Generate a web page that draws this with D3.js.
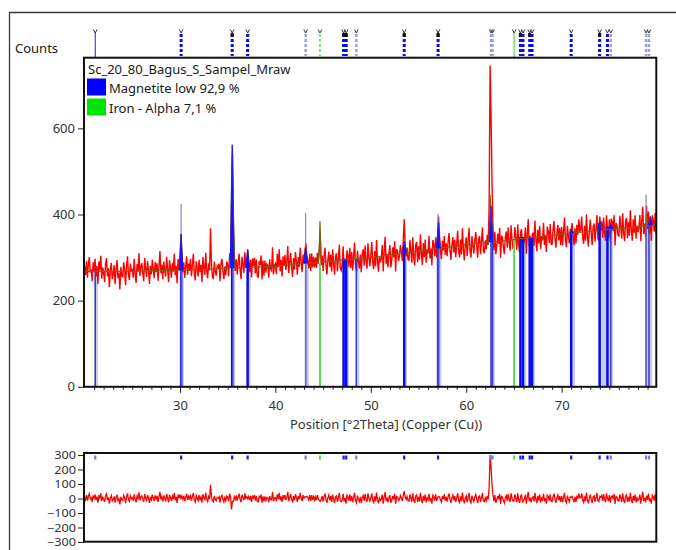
<!DOCTYPE html>
<html>
<head>
<meta charset="utf-8">
<script src="https://cdn.jsdelivr.net/npm/d3@7"></script>
<style>
  html, body { margin: 0; padding: 0; background: #fff; }
  svg { display: block; font-family: "Noto Sans", "Open Sans", sans-serif; }
</style>
</head>
<body>
<svg id="chart" width="676" height="550"></svg>
<script>
// ---- Scan: Sc_20_80_Bagus_S_Sampel_Mraw, Cu radiation, 20-80 deg 2Theta ----
const sampleName = "Sc_20_80_Bagus_S_Sampel_Mraw";
const scanStart = 20.0;
const scanStep = 0.1;

// observed counts, one value per step
const observed = [
279,259,292,253,285,301,265,273,245,289,
268,297,257,280,239,291,271,304,251,277,
264,243,285,299,256,275,232,270,288,250,
261,282,238,273,294,252,265,226,278,259,
254,289,271,236,280,303,260,248,286,268,
274,253,297,262,241,285,268,310,257,279,
287,264,245,299,274,255,292,271,239,281,
261,295,272,252,290,266,287,246,280,315,
264,284,250,291,270,256,302,275,243,294,
276,253,287,267,309,259,281,240,297,272,
300,355,307,266,289,253,279,303,260,286,
269,297,257,283,309,263,247,291,274,256,
295,266,283,243,301,278,260,311,269,252,
287,270,368,284,256,250,291,267,258,281,
277,286,245,288,297,268,250,279,259,291,
283,257,308,310,405,540,380,302,269,296,
261,288,309,270,250,302,284,264,312,278,
289,318,291,266,295,254,298,280,300,263,
296,257,255,292,283,305,249,293,258,293,
265,285,282,253,296,274,270,324,261,282,
286,262,309,278,319,268,295,256,303,282,
306,271,293,327,264,288,311,277,255,299,
272,313,292,260,301,279,323,287,266,307,
289,318,333,305,292,275,309,269,310,277,
302,277,300,276,311,286,315,350,282,305,
269,304,323,282,261,295,314,278,307,267,
319,287,260,303,310,268,298,330,275,270,
285,326,274,297,258,317,306,279,323,276,
313,270,304,335,282,266,316,293,275,307,
266,307,319,281,328,292,274,333,300,280,
305,336,288,273,315,280,341,292,267,303,
289,300,329,268,315,348,285,309,277,309,
329,277,295,324,301,338,268,320,315,292,
303,329,314,292,340,389,330,303,323,295,
294,341,315,288,347,300,282,329,336,289,
326,295,354,309,283,333,301,342,288,318,
309,350,298,321,282,341,330,303,347,300,
348,395,350,313,297,339,316,350,306,333,
303,338,357,316,295,329,348,312,341,301,
332,363,315,300,342,307,368,319,294,330,
347,304,338,369,316,300,350,327,309,341,
359,327,300,343,350,308,338,370,315,310,
340,320,353,329,420,746,630,480,375,317,
360,308,326,355,332,369,299,351,346,323,
308,349,361,323,370,334,316,375,342,322,
324,371,345,318,377,330,312,359,366,319,
330,341,370,309,356,389,326,350,318,350,
358,327,386,341,315,365,333,374,320,350,
340,381,329,352,313,372,361,334,378,331,
331,366,385,344,323,357,376,340,369,329,
371,328,362,393,340,324,374,351,333,365,
364,380,350,329,368,333,376,353,389,361,
364,395,347,332,374,339,400,351,326,362,
388,356,329,372,379,337,367,399,344,339,
395,372,384,346,393,357,339,398,365,345,
389,337,390,384,361,398,328,380,375,352,
350,397,371,344,403,356,338,385,392,345,
382,351,410,365,339,389,357,398,344,374,
359,370,399,338,385,418,355,379,347,420,
366,407,355,395,339,398,387,360,404,357,
383
];

// observed minus calculated, same steps
const difference = [
11,-9,24,-15,17,33,-3,5,-23,21,
0,29,-11,12,-29,23,3,36,-17,9,
-3,-24,18,32,-11,8,-35,3,21,-17,
-6,15,-29,6,27,-15,-2,-41,11,-8,
-14,21,3,-32,12,35,-8,-20,18,0,
6,-15,29,-6,-27,17,0,42,-11,11,
18,-5,-24,30,5,-14,23,2,-30,12,
-8,26,3,-17,21,-3,18,-23,11,46,
-6,14,-20,21,0,-14,32,5,-27,24,
6,-17,17,-3,39,-11,11,-30,27,2,
29,1,17,-5,18,-18,8,32,-11,15,
-2,26,-14,12,38,-8,-24,20,3,-15,
23,-6,11,-29,29,6,-12,39,-3,-20,
14,-3,95,11,-17,-23,18,-6,-15,8,
3,12,-29,14,23,-6,-24,5,-15,17,
8,-18,33,10,-75,-20,-20,12,-6,21,
-15,12,33,-6,-26,26,8,-12,36,2,
12,-2,14,-11,18,-23,21,3,23,-14,
18,-21,-23,14,5,27,-29,15,-20,15,
-14,6,3,-26,17,-5,-9,45,-18,3,
6,-18,29,-2,39,-12,15,-24,23,2,
24,-11,11,45,-18,6,29,-5,-27,17,
-12,29,8,-24,17,-5,39,3,-18,23,
3,12,10,15,6,-11,23,-17,24,-9,
14,-11,12,-12,23,-2,-15,-20,-6,17,
-21,14,33,-8,-29,5,24,-12,17,-23,
27,-5,-32,11,18,-24,6,38,-17,-22,
-9,32,-20,3,-36,23,12,-15,29,-18,
17,-26,8,39,-14,-30,20,-3,-21,11,
-32,9,21,-17,30,-6,-24,35,2,-18,
5,36,-12,-27,15,-20,41,-8,-33,3,
-14,-3,26,-35,12,45,-18,6,-26,6,
23,-29,-11,18,-5,32,-38,14,9,-14,
-6,20,5,-17,20,51,10,-6,14,-14,
-18,29,3,-24,35,-12,-30,17,24,-23,
11,-20,39,-6,-32,18,-14,27,-27,3,
-9,32,-20,3,-36,23,12,-15,29,-18,
8,14,10,-8,-24,18,-5,29,-15,12,
-21,14,33,-8,-29,5,24,-12,17,-23,
5,36,-12,-27,15,-20,41,-8,-33,3,
17,-26,8,39,-14,-30,20,-3,-21,11,
27,-5,-32,11,18,-24,6,38,-17,-22,
5,-15,18,-6,75,300,215,95,30,-18,
23,-29,-11,18,-5,32,-38,14,9,-14,
-32,9,21,-17,30,-6,-24,35,2,-18,
-18,29,3,-24,35,-12,-30,17,24,-23,
-14,-3,26,-35,12,45,-18,6,-26,6,
11,-20,39,-6,-32,18,-14,27,-27,3,
-9,32,-20,3,-36,23,12,-15,29,-18,
-21,14,33,-8,-29,5,24,-12,17,-23,
17,-26,8,39,-14,-30,20,-3,-21,11,
8,15,-6,-27,12,-23,20,-3,33,5,
5,36,-12,-27,15,-20,41,-8,-33,3,
27,-5,-32,11,18,-24,6,38,-17,-22,
14,9,21,-17,30,-6,-24,35,2,-18,
23,-29,13,18,-5,32,-38,14,9,-14,
-18,29,3,-24,35,-12,-30,17,24,-23,
11,-20,39,-6,-32,18,-14,27,-27,3,
-14,-3,26,-35,12,45,-18,6,-26,20,
-9,32,-20,0,-36,23,12,-15,29,-18,
6
];

// calculated profile [2Theta, counts]: background plus fitted peaks
const calcProfile = [
[20,268],[25,268],[30.0,271],[30.1,354],[30.2,290],[30.3,271],
[35.2,275],[35.3,300],[35.4,480],[35.5,560],[35.6,400],[35.7,290],[35.8,276],
[37.0,277],[37.1,320],[37.2,277],[40,280],
[43.0,286],[43.1,306],[43.2,323],[43.3,290],[43.4,287],
[44.5,288],[44.6,330],[44.67,385],[44.7,370],[44.8,289],[45,290],[50,300],
[53.3,310],[53.4,320],[53.5,338],[53.6,320],[53.7,311],[55,315],
[56.9,321],[57.0,340],[57.1,381],[57.2,340],[57.3,322],[60,330],
[62.3,335],[62.4,345],[62.5,446],[62.6,415],[62.7,385],[62.8,345],[62.9,336],
[65,342],[70,354],[71.0,356],[71.1,365],[71.2,357],
[73.9,363],[74.0,381],[74.1,364],[75.1,366],[75.2,377],[75.3,366],
[78.8,373],[78.9,400],[79.0,375],[79.2,375],[79.3,395],[79.4,376],[80,377]
];

// Magnetite low: line positions, relative intensity (%), stick top in counts
const magnetitePos = [21.12,30.12,35.47,37.09,43.17,47.15,47.42,48.48,53.5,57.05,62.6,62.75,65.68,65.95,66.65,66.9,71.0,73.98,74.8,75.15,78.85,79.15];
const magnetiteInt = [3,30,100,30,12,45,45,8,45,45,12,12,45,20,45,20,30,45,30,12,8,8];
const magnetiteTop = [269,271,276,277,287,297,297,297,311,322,336,337,348,348,348,348,361,381,372,377,377,377];
// reference stick heights reaching above the profile
const magnetiteRefTop = [[30.12,424],[35.55,377],[43.17,404],[57.05,401],[78.85,446]];
// fitted magnetite peak profiles [2Theta, base, top]
const magnetiteProfile = [[30.12,271,354],[35.47,276,562],[37.09,277,318],[43.17,287,323],[53.5,311,338],[57.08,322,381],[62.6,336,419],[71.05,357,365],[73.98,364,384],[75.18,367,377],[79.3,376,395]];
// peak-width bands [from, to, top]
const shadeBands = [[21.0,21.4,269],[30.0,30.4,271],[35.4,35.8,276],[37.0,37.4,277],[43.1,43.5,287],[47.0,47.7,297],[48.4,48.8,297],[53.4,53.8,311],[57.0,57.4,322],[62.5,63.0,337],[65.6,66.3,348],[66.6,67.2,348],[70.9,71.4,361],[73.9,75.4,377],[78.8,79.5,377]];

// Iron - Alpha
const ironPos = [44.67, 65.02];
const ironInt = [10, 4];
const ironTop = [288, 346];

const legendLabels = ["Magnetite low 92,9 %", "Iron - Alpha 7,1 %"];
const xTicksMajor = [30, 40, 50, 60, 70];
const yTicksMain = [0, 200, 400, 600];
const yTicksDiff = [-300, -200, -100, 0, 100, 200, 300];

// ---- drawing ----
const svg = d3.select("#chart");
const FONT = '"Noto Sans", "Open Sans", sans-serif';
const BLUE = "#0a0af0", BLUE_WEAK = "#3a3ad0", BLUE_LIGHT = "#9a9ae6";
const GREEN = "#5cd65c";

const x = d3.scaleLinear().domain([19.94, 79.92]).range([84, 656.3]);
const y = d3.scaleLinear().domain([0, 764]).range([386.8, 57.7]);
const yd = d3.scaleLinear().domain([-300, 300]).range([542, 455]);

const defs = svg.append("defs");
defs.append("clipPath").attr("id", "clipMain").append("rect")
  .attr("x", 84).attr("y", 57.7).attr("width", 572.3).attr("height", 329.1);
defs.append("clipPath").attr("id", "clipDiff").append("rect")
  .attr("x", 84).attr("y", 453).attr("width", 572.3).attr("height", 88.7);

// outer window frame
svg.append("path").attr("d", "M9.5,550V12.5H676")
  .attr("fill", "none").attr("stroke", "#3a3a3a").attr("stroke-width", 1.3);

svg.append("text").attr("x", 15).attr("y", 53).text("Counts")
  .attr("font-family", FONT).attr("font-size", 13).attr("fill", "#222");

// ---- phase markers above the main plot ----
const topG = svg.append("g");
magnetitePos.forEach((p, i) => {
  const xi = x(p), I = magnetiteInt[i];
  topG.append("path").attr("d", `M${xi - 1.8},29.5L${xi},33L${xi + 1.8},29.5`)
    .attr("fill", "none").attr("stroke", "#333").attr("stroke-width", 1);
  if (I < 5) {
    topG.append("line").attr("x1", xi).attr("x2", xi).attr("y1", 33).attr("y2", 57)
      .attr("stroke", "#2424b8").attr("stroke-width", 1);
  } else {
    topG.append("line").attr("x1", xi).attr("x2", xi).attr("y1", 34).attr("y2", 56)
      .attr("stroke", I < 15 ? BLUE_LIGHT : BLUE)
      .attr("stroke-width", I < 15 ? 2.4 : 3)
      .attr("stroke-dasharray", "3 2");
    if (I >= 40) {
      topG.append("line").attr("x1", xi).attr("x2", xi).attr("y1", 33).attr("y2", 37)
        .attr("stroke", "#111").attr("stroke-width", 3);
    }
  }
});
ironPos.forEach((p, i) => {
  const xi = x(p);
  topG.append("path").attr("d", `M${xi - 1.8},29.5L${xi},33L${xi + 1.8},29.5`)
    .attr("fill", "none").attr("stroke", "#333").attr("stroke-width", 1);
  if (ironInt[i] < 5) {
    topG.append("line").attr("x1", xi).attr("x2", xi).attr("y1", 33).attr("y2", 57)
      .attr("stroke", GREEN).attr("stroke-width", 1.2);
  } else {
    topG.append("line").attr("x1", xi).attr("x2", xi).attr("y1", 34).attr("y2", 56)
      .attr("stroke", "#90e090").attr("stroke-width", 2.4).attr("stroke-dasharray", "3 2");
  }
});

// ---- main plot ----
const main = svg.append("g").attr("clip-path", "url(#clipMain)");

main.selectAll("rect.band").data(shadeBands).join("rect")
  .attr("x", d => x(d[0])).attr("width", d => x(d[1]) - x(d[0]))
  .attr("y", d => y(d[2])).attr("height", d => y(0) - y(d[2]))
  .attr("fill", "#c8cce6");

const obsPts = observed.map((v, i) => [scanStart + i * scanStep, v]);
const line = d3.line().x(d => x(d[0])).y(d => y(d[1]));
main.append("path").datum(obsPts).attr("d", line)
  .attr("fill", "none").attr("stroke", "#ff0000").attr("stroke-width", 1.4)
  .attr("stroke-linejoin", "miter");

main.selectAll("line.stick").data(magnetitePos).join("line")
  .attr("x1", d => x(d)).attr("x2", d => x(d))
  .attr("y1", y(0)).attr("y2", (d, i) => y(magnetiteTop[i]))
  .attr("stroke", (d, i) => magnetiteInt[i] >= 15 ? BLUE : BLUE_WEAK)
  .attr("stroke-width", (d, i) => magnetiteInt[i] >= 15 ? 2.5 : 1.5);

main.selectAll("line.ref").data(magnetiteRefTop).join("line")
  .attr("x1", d => x(d[0])).attr("x2", d => x(d[0]))
  .attr("y1", y(0)).attr("y2", d => y(d[1]))
  .attr("stroke", "#7676c4").attr("stroke-width", 1.2).attr("opacity", 0.9);

main.selectAll("line.iron").data(ironPos).join("line")
  .attr("x1", d => x(d)).attr("x2", d => x(d))
  .attr("y1", y(0)).attr("y2", (d, i) => y(ironTop[i]))
  .attr("stroke", GREEN).attr("stroke-width", 2);

main.append("path").datum(calcProfile).attr("d", line)
  .attr("fill", "none").attr("stroke", "#7a6410").attr("stroke-width", 1.1);

main.selectAll("path.prof").data(magnetiteProfile).join("path")
  .attr("d", d => `M${x(d[0] - 0.2)},${y(d[1])}L${x(d[0])},${y(d[2])}L${x(d[0] + 0.2)},${y(d[1])}Z`)
  .attr("fill", "#1414ff").attr("stroke", "#1414ff").attr("stroke-width", 0.8);

// axes
const gy = svg.append("g").attr("transform", "translate(84,0)")
  .call(d3.axisLeft(y).tickValues(yTicksMain).tickSize(6).tickPadding(3));
gy.select(".domain").remove();

const gx = svg.append("g").attr("transform", "translate(0,386.8)")
  .call(d3.axisBottom(x).tickValues(xTicksMajor).tickSize(6).tickPadding(8));
gx.select(".domain").remove();
const gxm = svg.append("g").attr("transform", "translate(0,386.8)")
  .call(d3.axisBottom(x).tickValues(d3.range(21, 80).filter(v => v % 10 !== 0)).tickSize(3).tickFormat(""));
gxm.select(".domain").remove();

[gy, gx].forEach(g => {
  g.attr("font-family", FONT).attr("font-size", 13);
  g.selectAll("text").attr("fill", "#333");
});
svg.selectAll(".tick line").attr("stroke", "#222");

svg.append("text").attr("x", 386).attr("y", 429).attr("text-anchor", "middle")
  .attr("font-family", FONT).attr("font-size", 13).attr("fill", "#333")
  .text("Position [°2Theta] (Copper (Cu))");

svg.append("rect").attr("x", 84).attr("y", 57.7).attr("width", 572.3).attr("height", 329.1)
  .attr("fill", "none").attr("stroke", "#111").attr("stroke-width", 2);

// legend
const lg = svg.append("g").attr("font-family", FONT).attr("font-size", 13).attr("fill", "#1a1a1a");
lg.append("text").attr("x", 88).attr("y", 73.5).text(sampleName);
const legendColors = ["#0000ff", "#00e400"];
legendLabels.forEach((t, i) => {
  lg.append("rect").attr("x", 87).attr("y", 78.5 + i * 20).attr("width", 19).attr("height", 17)
    .attr("fill", legendColors[i]);
  lg.append("text").attr("x", 109).attr("y", 93.3 + i * 20).text(t);
});

// ---- difference plot ----
const diffG = svg.append("g").attr("clip-path", "url(#clipDiff)");
const diffPts = difference.map((v, i) => [scanStart + i * scanStep, v]);
diffG.append("path").datum(diffPts)
  .attr("d", d3.line().x(d => x(d[0])).y(d => yd(d[1])))
  .attr("fill", "none").attr("stroke", "#ff0000").attr("stroke-width", 1.3);

magnetitePos.forEach((p, i) => {
  diffG.append("rect").attr("x", x(p) - 1.1).attr("y", 455.5).attr("width", 2.2).attr("height", 4)
    .attr("fill", magnetiteInt[i] >= 15 ? "#1a1ae0" : "#7c7cd8");
});
ironPos.forEach(p => {
  diffG.append("rect").attr("x", x(p) - 1.1).attr("y", 455.5).attr("width", 2.2).attr("height", 4)
    .attr("fill", GREEN);
});

const gyd = svg.append("g").attr("transform", "translate(84,0)")
  .call(d3.axisLeft(yd).tickValues(yTicksDiff).tickSize(6).tickPadding(2));
gyd.select(".domain").remove();
gyd.attr("font-family", FONT).attr("font-size", 11);
gyd.selectAll("text").attr("fill", "#333").attr("transform", "scale(1.15,1)")
  .attr("x", -8 / 1.15);
gyd.selectAll(".tick line").attr("stroke", "#222");

svg.append("rect").attr("x", 84).attr("y", 453).attr("width", 572.3).attr("height", 88.7)
  .attr("fill", "none").attr("stroke", "#111").attr("stroke-width", 2);
</script>
</body>
</html>
